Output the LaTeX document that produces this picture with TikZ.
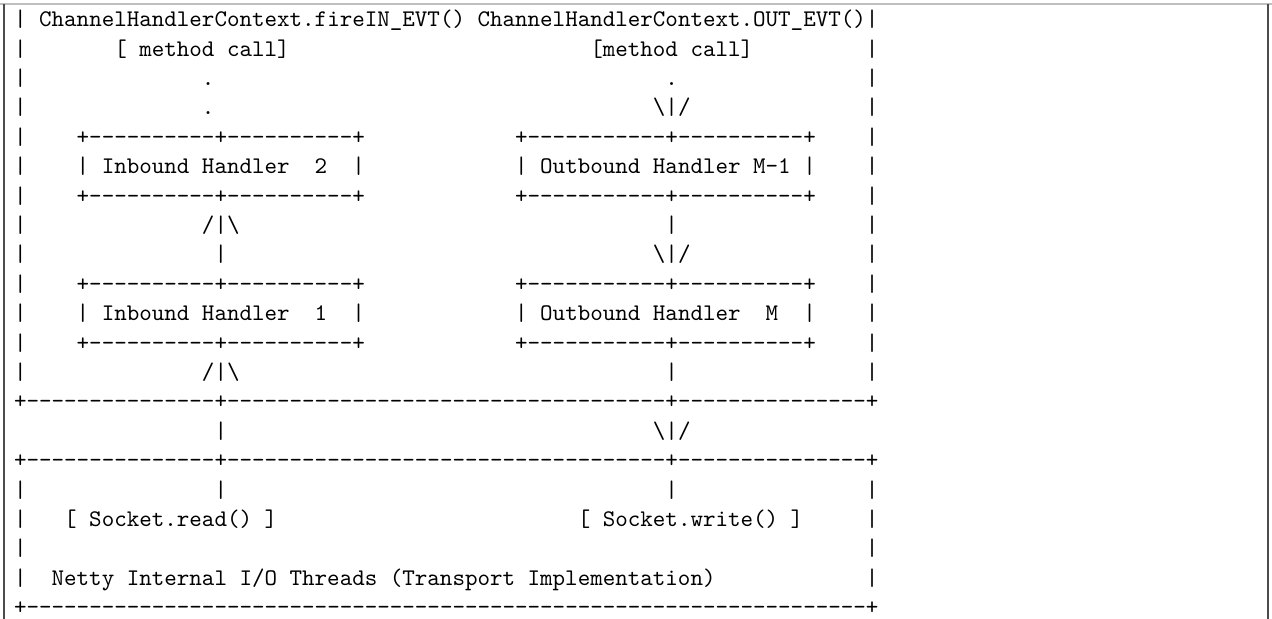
\documentclass[tikz,border=0pt]{standalone}
\usepackage{fontspec}
\setmonofont{lmmono10-regular.otf}
\usepackage{tikz}
\usetikzlibrary{positioning}

\newcommand{\gap}[1]{\hspace*{\dimexpr 0.525em*#1\relax}}
\newcommand{\dashes}[1]{\foreach \i in {1,...,#1}{-}}

\begin{document}
\begin{tikzpicture}[x=6.2625pt, y=-14.7pt,
    asciirow/.style={anchor=base west, inner sep=0pt, font=\fontsize{11.93pt}{14pt}\selectfont\ttfamily}]
    \useasboundingbox (0pt,0pt) rectangle (636pt,-309.5pt);
    \draw[line width=0.7pt, black!25] (0pt,-2pt) -- (636pt,-2pt);
    \draw[line width=0.7pt, black!70] (2pt,-2pt) -- (2pt,-309.5pt);
    \draw[line width=0.7pt, black!70] (634pt,-2pt) -- (634pt,-309.5pt);
    \begin{scope}[shift={(6.85pt,-13.35pt)}]
    \node[asciirow] (fire) at (0,0) {|~ChannelHandlerContext.fireIN\_EVT()~ChannelHandlerContext.OUT\_EVT()|};
    \node[asciirow] (call) at (0,1) {|\gap{7}[ method call]\gap{24}[method call]\gap{9}|};
    \node[asciirow] (dot_1) at (0,2) {|\gap{14}.\gap{36}.\gap{15}|};
    \node[asciirow] (dot_2) at (0,3) {|\gap{14}.\gap{35}\textbackslash|/\gap{14}|};
    \node[asciirow] (box_2_top) at (0,4) {|\gap{4}+\dashes{10}+\dashes{10}+\gap{12}+\dashes{11}+\dashes{10}+\gap{4}|};
    \node[asciirow] (handler_2) at (0,5) {|\gap{4}| Inbound Handler\gap{2}2\gap{2}|\gap{12}| Outbound Handler M-1 |\gap{4}|};
    \node[asciirow] (box_2_bot) at (0,6) {|\gap{4}+\dashes{10}+\dashes{10}+\gap{12}+\dashes{11}+\dashes{10}+\gap{4}|};
    \node[asciirow] (arrow_1) at (0,7) {|\gap{14}/|\textbackslash\gap{34}|\gap{15}|};
    \node[asciirow] (arrow_2) at (0,8) {|\gap{15}|\gap{34}\textbackslash|/\gap{14}|};
    \node[asciirow] (box_1_top) at (0,9) {|\gap{4}+\dashes{10}+\dashes{10}+\gap{12}+\dashes{11}+\dashes{10}+\gap{4}|};
    \node[asciirow] (handler_1) at (0,10) {|\gap{4}| Inbound Handler\gap{2}1\gap{2}|\gap{12}| Outbound Handler\gap{2}M\gap{2}|\gap{4}|};
    \node[asciirow] (box_1_bot) at (0,11) {|\gap{4}+\dashes{10}+\dashes{10}+\gap{12}+\dashes{11}+\dashes{10}+\gap{4}|};
    \node[asciirow] (arrow_3) at (0,12) {|\gap{14}/|\textbackslash\gap{34}|\gap{15}|};
    \node[asciirow] (split_top) at (0,13) {+\dashes{15}+\dashes{35}+\dashes{15}+};
    \node[asciirow] (link) at (0,14) {\gap{16}|\gap{34}\textbackslash|/};
    \node[asciirow] (split_bot) at (0,15) {+\dashes{15}+\dashes{35}+\dashes{15}+};
    \node[asciirow] (stem) at (0,16) {|\gap{15}|\gap{35}|\gap{15}|};
    \node[asciirow] (socket) at (0,17) {|\gap{3}[ Socket.read() ]\gap{24}[ Socket.write() ]\gap{5}|};
    \node[asciirow] (blank) at (0,18) {|\gap{67}|};
    \node[asciirow] (netty) at (0,19) {|\gap{2}Netty Internal I/O Threads (Transport Implementation)\gap{12}|};
    \node[asciirow] (base) at (0,20) {+\dashes{67}+};
    \end{scope}
\end{tikzpicture}
\end{document}
